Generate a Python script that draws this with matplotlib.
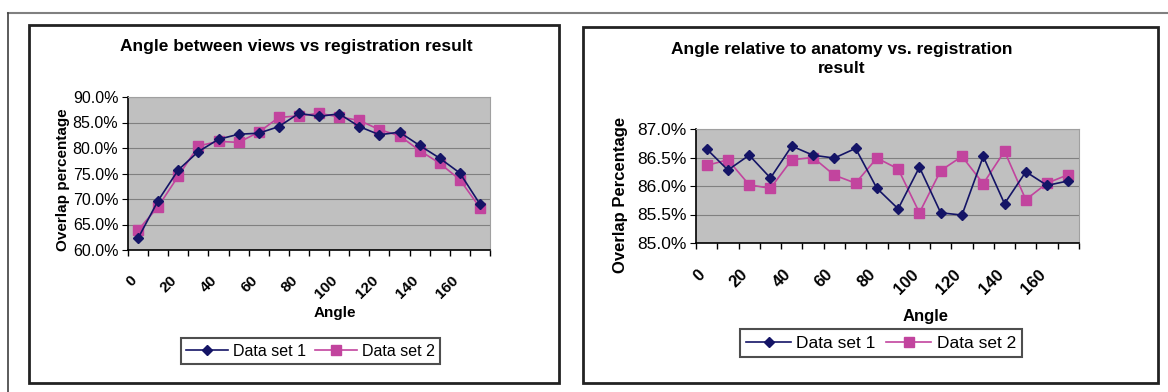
import numpy as np
import matplotlib
matplotlib.use("Agg")
import matplotlib.pyplot as plt
from matplotlib.patches import Rectangle
from matplotlib.lines import Line2D
from matplotlib.ticker import FuncFormatter

plt.rcParams['font.family'] = ['Liberation Sans', 'DejaVu Sans']

# angle categories (every 10 degrees), labels on every second one
angles = [0, 10, 20, 30, 40, 50, 60, 70, 80, 90, 100, 110, 120, 130, 140, 150, 160, 170]
tick_labels = ["0", "20", "40", "60", "80", "100", "120", "140", "160"]

# overlap percentage, angle between views
views_set1 = [62.3, 69.7, 75.7, 79.3, 81.7, 82.7, 82.9, 84.2, 86.8,
              86.2, 86.7, 84.2, 82.6, 83.1, 80.5, 78.0, 75.1, 69.0]
views_set2 = [63.9, 68.5, 74.5, 80.4, 81.3, 81.1, 83.1, 86.0, 86.3,
              86.8, 86.1, 85.4, 83.6, 82.4, 79.5, 77.0, 73.8, 68.3]

# overlap percentage, angle relative to anatomy
anat_set1 = [86.65, 86.28, 86.54, 86.14, 86.70, 86.54, 86.49, 86.66, 85.96,
             85.60, 86.33, 85.53, 85.49, 86.52, 85.69, 86.25, 86.01, 86.09]
anat_set2 = [86.36, 86.46, 86.02, 85.96, 86.46, 86.50, 86.19, 86.05, 86.49,
             86.30, 85.53, 86.27, 86.52, 86.04, 86.61, 85.76, 86.05, 86.20]

W, H = 1168, 392
fig = plt.figure(figsize=(W / 100, H / 100), dpi=100)

def box(x0, y0, x1, y1):
    # pixel coords (top-left origin) -> figure fraction
    return [x0 / W, 1 - y1 / H, (x1 - x0) / W, (y1 - y0) / H]

# page frame lines
fig.add_artist(Line2D([8 / W, 1], [1 - 13 / H, 1 - 13 / H], color="#808080", lw=1.5))
fig.add_artist(Line2D([8 / W, 8 / W], [0, 1 - 13 / H], color="#404040", lw=1.2))

# chart borders
for x0, y0, x1, y1 in [(29, 25, 559, 383), (583, 27, 1158, 383)]:
    b = box(x0, y0, x1, y1)
    fig.add_artist(Rectangle((b[0], b[1]), b[2], b[3], transform=fig.transFigure,
                             fill=False, ec="#222222", lw=2))

navy = "#141466"
pink = "#C2449E"

def draw(rect, s1, s2, ylim, ystep, title, ylabel, title_pos, ylabel_pos, xlabel_pos,
         leg_box, fs):
    ax = fig.add_axes(box(*rect))
    ax.set_facecolor("#C0C0C0")
    x = np.arange(len(angles))
    ax.plot(x, s1, color=navy, lw=1.2, marker="D", ms=5.5, zorder=3)
    ax.plot(x, s2, color=pink, lw=1.2, marker="s", ms=7.5, zorder=2)
    ax.set_xlim(-0.5, len(angles) - 0.5)
    ax.set_ylim(*ylim)
    yt = np.arange(ylim[0], ylim[1] + 1e-9, ystep)
    ax.set_yticks(yt)
    ax.yaxis.set_major_formatter(FuncFormatter(lambda v, p: "%.1f%%" % v))
    ax.grid(axis="y", color="#808080", lw=0.8)
    ax.set_axisbelow(True)
    # category boundaries get the tick marks, labels sit a bit left of centre
    ax.set_xticks(np.arange(-0.5, len(angles), 1.0), minor=True)
    ax.set_xticks(x[::2] - 0.42)
    ax.set_xticklabels(tick_labels, rotation=45, ha="right", va="top",
                       rotation_mode="anchor", fontsize=fs, fontweight="bold")
    ax.tick_params(axis="x", which="major", length=0, pad=17)
    ax.tick_params(axis="x", which="minor", length=4, direction="out", width=1)
    ax.tick_params(axis="y", length=4, direction="out", labelsize=fs + 0.5, pad=3)
    for s in ["top", "right"]:
        ax.spines[s].set_color("#A0A0A0")
    for s in ["left", "bottom"]:
        ax.spines[s].set_color("black")
        ax.spines[s].set_linewidth(1.2)

    fig.text(title_pos[1] / W, 1 - title_pos[0] / H, title,
             ha="center", va="center", fontsize=12.5, fontweight="bold", linespacing=1.4)
    fig.text(ylabel_pos[1] / W, 1 - ylabel_pos[0] / H, ylabel, rotation=90,
             ha="center", va="center", fontsize=fs, fontweight="bold")
    fig.text(xlabel_pos[1] / W, 1 - xlabel_pos[0] / H, "Angle", ha="center", va="center",
             fontsize=fs, fontweight="bold")

    lb = box(*leg_box)
    handles = [Line2D([], [], color=navy, lw=1.2, marker="D", ms=5.5),
               Line2D([], [], color=pink, lw=1.2, marker="s", ms=7.5)]
    leg = fig.legend(handles, ["Data set 1", "Data set 2"], loc="center",
                     bbox_to_anchor=(lb[0] + lb[2] / 2, lb[1] + lb[3] / 2),
                     ncol=2, fontsize=fs + 0.5, frameon=True, fancybox=False,
                     handlelength=2.6, handletextpad=0.3, columnspacing=0.6,
                     borderpad=0.35)
    leg.get_frame().set_edgecolor("#222222")
    leg.get_frame().set_linewidth(1.5)
    return ax

draw((128, 97, 490, 250), views_set1, views_set2, (60, 90), 5,
     "Angle between views vs registration result", "Overlap percentage",
     (46, 296), (180, 63), (313, 335), (176, 335, 445, 367), 11)

draw((696, 129, 1079, 243), anat_set1, anat_set2, (85, 87), 0.5,
     "Angle relative to anatomy vs. registration\nresult", "Overlap Percentage",
     (59, 842), (195, 621), (316, 926), (730, 325, 1032, 361), 12)

fig.savefig("out.png", dpi=100)
